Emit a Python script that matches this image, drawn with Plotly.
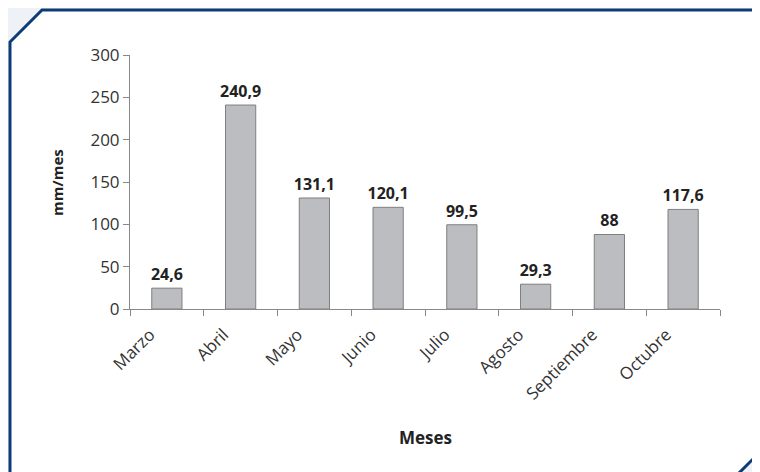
import plotly.graph_objects as go

meses = ["Marzo", "Abril", "Mayo", "Junio", "Julio", "Agosto", "Septiembre", "Octubre"]
valores = [24.6, 240.9, 131.1, 120.1, 99.5, 29.3, 88, 117.6]
etiquetas = ["24,6", "240,9", "131,1", "120,1", "99,5", "29,3", "88", "117,6"]

OFF = 8  # page body margin
W, H = 760 - OFF, 472 - OFF
L, R, T, B = 130 - OFF, 40, 55 - OFF, 163
pw, ph = W - L - R, H - T - B

def px(x):
    return (x - OFF - L) / pw

def py(y):
    return (H - B - (y - OFF)) / ph

fig = go.Figure(go.Bar(
    x=meses, y=valores, text=etiquetas, textposition="outside",
    textfont=dict(family="Open Sans", size=16, color="#222222", weight="bold"),
    marker=dict(color="#bcbdc0", line=dict(color="#7f7f7f", width=1)),
    cliponaxis=False, constraintext="none",
))

pts = [(10, 42), (42, 10), (766, 10), (766, 446), (732, 480), (10, 480)]
path = "M " + " L ".join(f"{px(a):.5f},{py(b):.5f}" for a, b in pts) + " Z"
fig.add_shape(type="path", path=path, xref="paper", yref="paper",
              fillcolor="white", line=dict(color="#0d3b78", width=3), layer="below")

fig.add_annotation(text="<b>mm/mes</b>", x=px(57), y=py(183), xref="paper", yref="paper",
                   xanchor="center", yanchor="middle",
                   textangle=-90, showarrow=False, font=dict(family="Open Sans", size=15, color="#222"))
fig.add_annotation(text="<b>Meses</b>", x=px(425), y=py(437), xref="paper", yref="paper",
                   xanchor="center", yanchor="middle",
                   showarrow=False, font=dict(family="Open Sans", size=17, color="#222"))

fig.update_layout(
    width=W, height=H, margin=dict(l=L, r=R, t=T, b=B, autoexpand=False),
    paper_bgcolor="#eef1f5", plot_bgcolor="rgba(0,0,0,0)",
    bargap=0.59, showlegend=False,
    font=dict(family="Open Sans", size=15, color="#333333"),
)
fig.update_xaxes(showline=True, linecolor="#888888", linewidth=1, ticks="outside",
                 tickson="boundaries", ticklen=6, tickcolor="#888888", tickangle=-45,
                 ticklabelshift=-17, ticklabelstandoff=8,
                 showgrid=False, automargin=False, tickfont=dict(size=17, color="#333"))
fig.update_yaxes(range=[0, 300], dtick=50, showline=True, linecolor="#888888", linewidth=1,
                 ticks="outside", ticklen=6, tickcolor="#888888", showgrid=False,
                 automargin=False, zeroline=False, tickfont=dict(size=17, color="#333"))

fig.write_html("out.html")
